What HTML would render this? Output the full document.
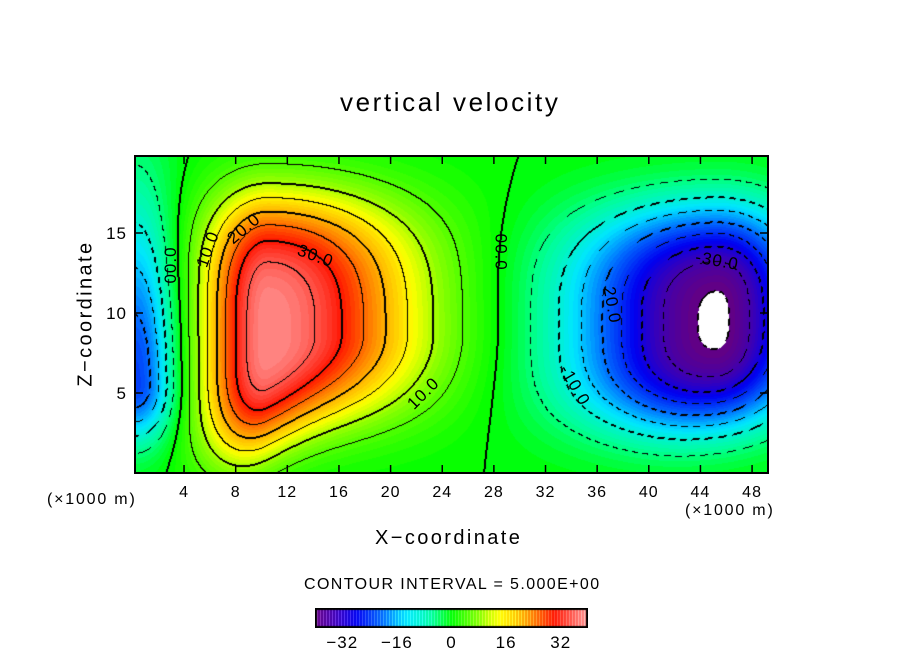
<!DOCTYPE html>
<html><head><meta charset="utf-8"><style>
body{margin:0;background:#fff;width:904px;height:654px;overflow:hidden;font-family:"Liberation Sans",sans-serif}
#wrap{position:relative;width:904px;height:654px}
.t{position:absolute;color:#000;white-space:nowrap}
canvas{position:absolute}
</style></head><body><div id="wrap">
<div class="t" style="left:340px;top:87px;font-size:26px;letter-spacing:2.6px">vertical velocity</div>
<canvas id="plot" style="left:135px;top:156px" width="633" height="317"></canvas>
<svg id="ax" width="904" height="654" style="position:absolute;left:0;top:0"></svg>
<div class="t" style="left:8px;top:302px;font-size:20px;letter-spacing:2.4px;transform:rotate(-90deg);transform-origin:center;width:156px;text-align:center">Z−coordinate</div>
<div class="t" style="left:375px;top:527px;font-size:20px;letter-spacing:2.4px">X−coordinate</div>
<div class="t" style="left:47px;top:491px;font-size:16px;letter-spacing:1.8px">(×1000 m)</div>
<div class="t" style="left:685px;top:502px;font-size:16px;letter-spacing:1.8px">(×1000 m)</div>
<div class="t" style="left:304px;top:576px;font-size:16px;letter-spacing:1.4px">CONTOUR INTERVAL = 5.000E+00</div>
<canvas id="cbar" style="left:315px;top:608px" width="273" height="20"></canvas>
</div>
<script>
// field cells (x, z in 1000 m; amplitude m/s; widths and shape exponents)
const cellX=[10.5,45.3,0.3];
const cellZ=[8.5,9.5,5.5];
const cellAmp=[39,-40.8,-24];
const cellSxL=[4.9,10.6,3];
const cellSxR=[11.2,6.5,3];
const cellSzDown=[6.9,6.5,3.5];
const cellSzUp=[8.8,6.9,11];
const cellPx=[2,2,2];
const cellPzDown=[3,3,2];
const cellPzUp=[3.5,3,2];
const cellShear=[0.4,0.1,0];
const xTicks=[4,8,12,16,20,24,28,32,36,40,44,48];
const zTicks=[5,10,15];
const cbarTicks=[-32,-16,0,16,32];
const labels=[{t:"00.0",x:2.9,z:13,r:-90},{t:"10.0",x:5.8,z:14,r:-70},{t:"20.0",x:8.6,z:15.3,r:-40},{t:"30.0",x:14.2,z:13.6,r:20},{t:"10.0",x:22.5,z:5,r:-45},{t:"00.0",x:28.6,z:13.8,r:90},{t:"-10.0",x:34.3,z:5.5,r:60},{t:"20.0",x:37.2,z:10.5,r:80},{t:"-30.0",x:45.3,z:13.3,r:10}];
const X0=132.4,XS=12.91,Z0=473,ZS=16;
const px=x=>X0+XS*x, pz=z=>Z0-ZS*z;
function field(x,z){let w=0;for(let i=0;i<cellX.length;i++){const dx=x-cellX[i];let dz=z-cellZ[i];
const f=1/(1+Math.exp(dz*1.5));const dxc=4.5*Math.tanh(dx/4.5);
dz=dz-cellShear[i]*dxc*f;
const sx=dx<0?cellSxL[i]:cellSxR[i],sz=dz<0?cellSzDown[i]:cellSzUp[i],pzz=dz<0?cellPzDown[i]:cellPzUp[i];
w+=cellAmp[i]*Math.exp(-Math.pow(Math.abs(dx)/sx,cellPx[i])-Math.pow(Math.abs(dz)/sz,pzz));}return w;}
const stops=[[-40,[100,0,130]],[-34,[60,0,180]],[-28,[0,0,240]],[-20,[0,110,255]],[-13,[0,230,255]],[-6,[0,255,150]],[0,[0,255,0]],[8,[130,255,0]],[14,[255,255,0]],[22,[255,150,0]],[30,[255,20,0]],[40,[255,150,150]]];
function col(v){v=Math.max(-40,Math.min(40,v));for(let i=0;i<stops.length-1;i++){const a=stops[i],b=stops[i+1];if(v<=b[0]){const f=(v-a[0])/(b[0]-a[0]);return a[1].map((c,k)=>Math.round(c+(b[1][k]-c)*f));}}return stops[stops.length-1][1];}
const cv=document.getElementById('plot'),ctx=cv.getContext('2d');const W=633,H=317;
const vals=new Float32Array(W*H);
for(let j=0;j<H;j++)for(let i=0;i<W;i++){vals[j*W+i]=field((135+i+0.5-X0)/XS,(Z0-(156+j+0.5))/ZS);}
const img=ctx.createImageData(W,H);
for(let j=0;j<H;j++)for(let i=0;i<W;i++){const v=vals[j*W+i];const k=(j*W+i)*4;let c=v<-40?[255,255,255]:col(Math.floor(v)+0.5);
const lv=Math.floor(v/5);let line=false;
const nb=[[1,0],[0,1],[-1,0],[0,-1]];for(const [a,b] of nb){const ii=i+a,jj=j+b;if(ii<0||jj<0||ii>=W||jj>=H)continue;const v2=vals[jj*W+ii];const l2=Math.floor(v2/5);if(l2!==lv){const L=Math.max(lv,l2)*5;if(L%10===0)line=true;else if(a>0||b>0)line=true;}}
if(line){const neg=v<0.5&&Math.abs(v)>1;const dash=neg?((i+j)%12<7):true;if(dash)c=[0,0,0];}
img.data[k]=c[0];img.data[k+1]=c[1];img.data[k+2]=c[2];img.data[k+3]=255;}
ctx.putImageData(img,0,0);
const cb=document.getElementById('cbar').getContext('2d');
for(let i=0;i<273;i++){const v=-40+80*i/273;const c=col(v);cb.fillStyle=(i%3===2)?'rgb('+c.map(q=>Math.min(255,q+60)).join(',')+')':'rgb('+c.join(',')+')';cb.fillRect(i,0,1,20);}
cb.strokeStyle='#000';cb.lineWidth=2;cb.strokeRect(1,1,271,18);
const svg=document.getElementById('ax');const NS='http://www.w3.org/2000/svg';
function el(t,a){const e=document.createElementNS(NS,t);for(const k in a)e.setAttribute(k,a[k]);svg.appendChild(e);return e;}
const fr=el('rect',{x:135,y:156,width:633,height:317,fill:'none',stroke:'#000','stroke-width':2});


xTicks.forEach(t=>{const x=px(t);
const a=el('line',{x1:x,x2:x,y1:473,y2:465,stroke:'#000','stroke-width':1.5});


el('line',{x1:x,x2:x,y1:156,y2:164,stroke:'#000','stroke-width':1.5});
const tx=el('text',{x:x,y:497,'font-size':16,'letter-spacing':1,'text-anchor':'middle','font-family':'Liberation Sans, sans-serif'});tx.textContent=t;

});
zTicks.forEach(t=>{const y=pz(t);
const a=el('line',{x1:135,x2:143,y1:y,y2:y,stroke:'#000','stroke-width':1.5});


el('line',{x1:760,x2:768,y1:y,y2:y,stroke:'#000','stroke-width':1.5});
const tx=el('text',{x:127,y:y+6,'font-size':17,'letter-spacing':1,'text-anchor':'end','font-family':'Liberation Sans, sans-serif'});tx.textContent=t;

});
cbarTicks.forEach(t=>{const x=315+(t+40)/80*273;
const tx=el('text',{x:x,y:648,'font-size':17,'letter-spacing':1,'text-anchor':'middle','font-family':'Liberation Sans, sans-serif'});tx.textContent=t<0?'−'+(-t):t;

});
labels.forEach(l=>{const x=px(l.x),y=pz(l.z);
const tx=el('text',{x:x,y:y+6,'font-size':17,'letter-spacing':1,'text-anchor':'middle','font-family':'Liberation Sans, sans-serif',transform:'rotate('+l.r+' '+x+' '+y+')'});tx.textContent=l.t;

});
</script></body></html>
